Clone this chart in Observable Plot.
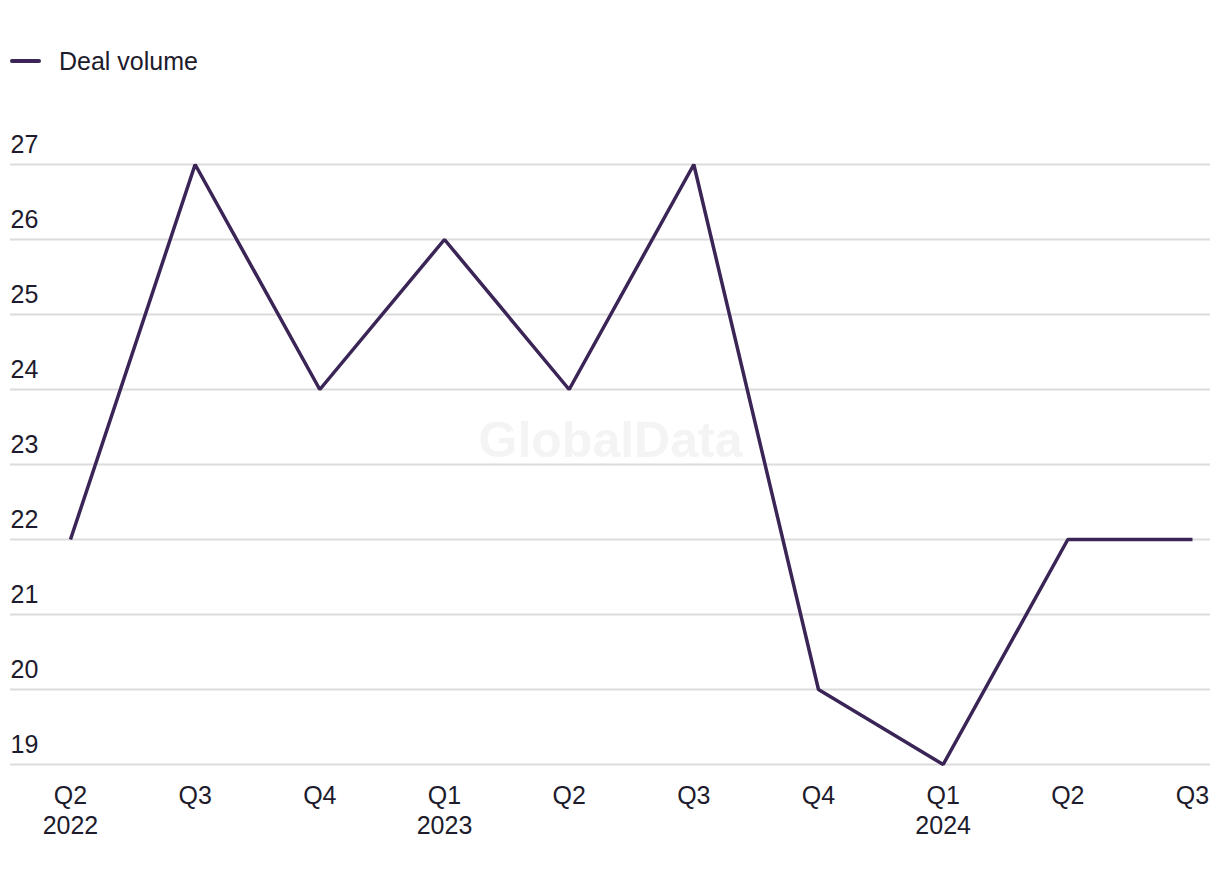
<!DOCTYPE html>
<html>
<head>
<meta charset="utf-8">
<script src="https://cdn.jsdelivr.net/npm/d3@7"></script>
<script src="https://cdn.jsdelivr.net/npm/@observablehq/plot@0.6"></script>
<style>
  body { margin: 0; background: #fff; font-family: "Liberation Sans", Arial, sans-serif; color: #1d1b2c; }
  #legend { position: relative; height: 100px; }
  #legend .sw { position: absolute; left: 10px; top: 59px; width: 31px; height: 4px; background: #3a2556; border-radius: 2px; }
  #legend .lb { position: absolute; left: 59px; top: 46px; font-size: 25px; line-height: 30px; }
</style>
</head>
<body>
<div id="legend"><div class="sw"></div><div class="lb">Deal volume</div></div>
<div id="chart"></div>
<script>
const quarters = ["Q2\n2022","Q3","Q4","Q1\n2023","Q2","Q3","Q4","Q1\n2024","Q2","Q3"];
const keys = ["2022Q2","2022Q3","2022Q4","2023Q1","2023Q2","2023Q3","2023Q4","2024Q1","2024Q2","2024Q3"];
const dealVolume = [22, 27, 24, 26, 24, 27, 20, 19, 22, 22];
const yTicks = [19, 20, 21, 22, 23, 24, 25, 26, 27];

const data = keys.map((k, i) => ({key: k, label: quarters[i], value: dealVolume[i]}));
const labelOf = new Map(keys.map((k, i) => [k, quarters[i]]));

const chart = Plot.plot({
  width: 1220,
  height: 784,
  marginLeft: 10,
  marginRight: 10,
  marginTop: 64,
  marginBottom: 120,
  style: {fontFamily: "'Liberation Sans', Arial, sans-serif", fontSize: "25px", color: "#1d1b2c", background: "#fff"},
  x: {type: "point", domain: keys, padding: 0.3128, align: 0.769, round: false},
  y: {domain: [19, 27]},
  marks: [
    Plot.gridY(yTicks, {stroke: "#dcdcdc", strokeOpacity: 1, strokeWidth: 2}),
    Plot.text(["GlobalData"], {frameAnchor: "middle", dy: -24, fontSize: 50, fontWeight: "bold", fill: "#f4f4f4"}),
    Plot.axisY(yTicks, {tickSize: 0, tickPadding: 0, textAnchor: "start", dy: -20, fontSize: 25, fill: "#1d1b2c", tickFormat: d3.format("d"), label: null}),
    Plot.axisX({tickSize: 0, tickPadding: 18, tickFormat: d => labelOf.get(d), fontSize: 25, lineHeight: 1.2, fill: "#1d1b2c", label: null}),
    Plot.line(data, {x: "key", y: "value", stroke: "#3a2556", strokeWidth: 3.5, strokeLinejoin: "miter", strokeLinecap: "butt"})
  ]
});
document.getElementById("chart").appendChild(chart);
</script>
</body>
</html>
